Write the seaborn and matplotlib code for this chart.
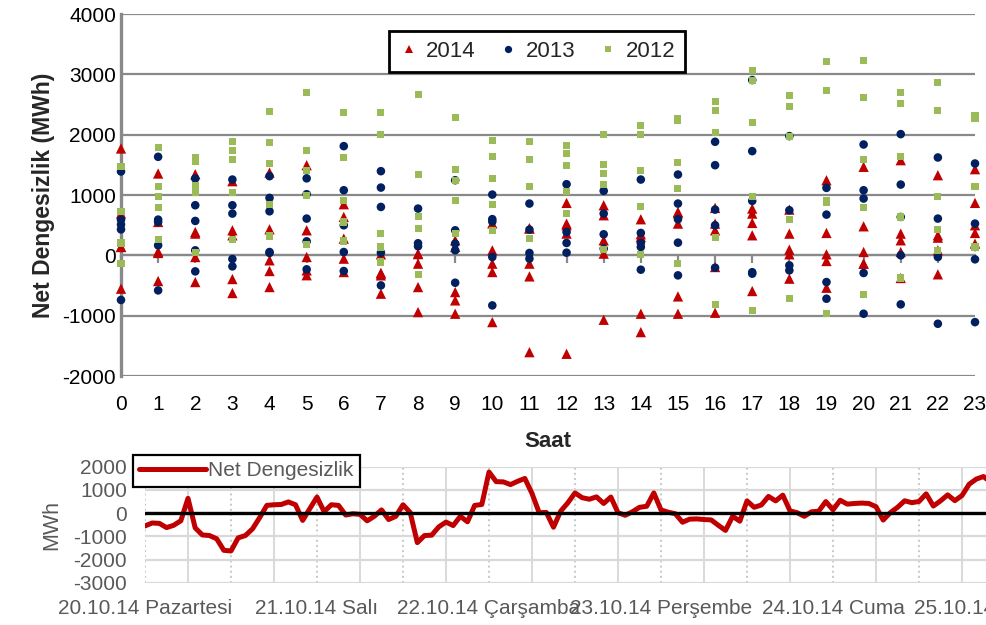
"""
Net dengesizlik (net imbalance) per hour: 2014 vs 2013 vs 2012 scatter,
plus the 2014 week as an hourly line underneath.
"""

import matplotlib
matplotlib.use("Agg")
import matplotlib.pyplot as plt
import pandas as pd
import seaborn as sns


# ─── Data ─────────────────────────────────────────────────────────────────────

HOURS = list(range(24))

DAY_LABELS = ["20.10.14 Pazartesi", "21.10.14 Salı", "22.10.14 Çarşamba",
              "23.10.14 Perşembe", "24.10.14 Cuma", "25.10.14 Cumartesi"]

# 2014 hourly net imbalance (MWh), one row per day, Mon 20.10 .. Fri 24.10
NET_2014 = [
    [-553, -426, -443, -625, -526, -330, 636, -636, -941, -968, -1107, -1605,
     -1632, -1068, -968, -681, -194, 332, 360, 371, 481, 360, -315, 194],
    [692, 60, 360, 332, -83, -28, -55, -332, -138, 138, -277, -138,
     360, 28, -1273, -968, -952, -592, -387, -537, -138, -376, 332, 371],
    [1771, 1356, 1345, 1229, 1372, 1494, 847, 17, 28, -609, 83, 443,
     869, 664, 598, 700, 415, 692, 17, -94, 55, 249, 293, 869],
    [138, 39, -28, -393, -260, -250, -277, -293, -526, -747, -138, -349,
     526, 249, 350, 719, 526, 775, 94, 17, -138, 55, 83, 498],
    [140, 553, 387, 415, 432, 415, 277, -300, 20, 249, 530, 450,
     500, 830, 304, 526, 786, 537, 758, 1245, 1467, 1577, 1328, 1428],
]

# 2013 values per hour (0..23)
NET_2013 = [
    [1390, 590, 510, 430, -740],
    [1633, 592, 553, 166, -581],
    [1273, 830, 570, 83, -266],
    [1256, 830, 692, -61, -183],
    [1312, 952, 730, 55, 40],
    [1276, 1013, 609, 232, -232],
    [1810, 1079, 498, 55, -260],
    [1395, 1123, 802, 44, -498],
    [775, 200, 150],
    [1245, 415, 194, 83, -454],
    [1007, 600, 560, -28, -830],
    [858, 426, 39, -55],
    [1179, 387, 205, 44],
    [1068, 692, 349, 111],
    [1256, 371, 205, 138, -238],
    [1339, 858, 598, 210, -332],
    [1882, 1494, 758, 498, -205],
    [2905, 1727, 902, -304, -280],
    [1976, 747, -166, -249],
    [1118, 675, -443, -719],
    [1837, 1079, 941, -293, -968],
    [2009, 1173, 636, 0, -813],
    [1622, 609, -28, -1134],
    [1522, 526, 138, -66, -1107],
]

# 2012 values per hour (0..23)
NET_2012 = [
    [1467, 719, 205, -138],
    [1782, 1134, 980, 786, 260],
    [1621, 1560, 1162, 1040, 44],
    [1893, 1732, 1588, 1040, 260],
    [2380, 1870, 1522, 847, 321],
    [2700, 1743, 1400, 985, 177],
    [2363, 1616, 913, 553, 238],
    [2369, 2009, 365, 138, -111],
    [2673, 1339, 647, 443, -315],
    [2280, 1428, 1245, 913, 360],
    [1898, 1644, 1273, 847, 404],
    [1882, 1588, 1134, 277],
    [1826, 1688, 1494, 1051, 692],
    [2009, 1511, 1356, 1173, 100],
    [2158, 2009, 1411, 802, 11],
    [2269, 2241, 1533, 1107, -138],
    [2557, 2407, 2036, 288, -813],
    [3071, 2905, 2197, 980, -913],
    [2656, 2474, 1976, 598, -719],
    [3210, 2728, 913, 869, -968],
    [3226, 2612, 1588, 786, -647],
    [2700, 2518, 1632, 636, -376],
    [2861, 2407, 980, 426, 83],
    [2324, 2269, 1146, 138],
]

YEARS   = ["2014", "2013", "2012"]
PALETTE = {"2014": "#C00000", "2013": "#002060", "2012": "#9BBB59"}
MARKERS = {"2014": "^", "2013": "o", "2012": "s"}
SIZES   = {"2014": 55, "2013": 38, "2012": 26}

GRID_DARK  = "#898989"
GRID_LIGHT = "#D9D9D9"
TEXT_GRAY  = "#595959"


# ─── Tidy frames ──────────────────────────────────────────────────────────────

rows = []
for day in NET_2014:
    for h, v in zip(HOURS, day):
        rows.append({"year": "2014", "hour": h, "value": v})
for year, table in (("2013", NET_2013), ("2012", NET_2012)):
    for h, vals in zip(HOURS, table):
        for v in vals:
            rows.append({"year": year, "hour": h, "value": v})
scatter_df = pd.DataFrame(rows)

line_df = pd.DataFrame({
    "step":  range(len(NET_2014) * 24),
    "value": [v for day in NET_2014 for v in day],
})


# ─── Figure ───────────────────────────────────────────────────────────────────

sns.set_style("white")
plt.rcParams["font.family"] = ["Liberation Sans", "DejaVu Sans"]
plt.rcParams["axes.unicode_minus"] = False

fig = plt.figure(figsize=(9.86, 6.25), dpi=100)
ax  = fig.add_axes([121/986, 1 - 376/625, 854/986, 362/625])
ax2 = fig.add_axes([145/986, 1 - 582.7/625, 860/986, 116/625])

# top: hourly scatter by year
sns.scatterplot(data=scatter_df, x="hour", y="value",
                hue="year", style="year", size="year",
                hue_order=YEARS, style_order=YEARS, size_order=YEARS,
                palette=PALETTE, markers=MARKERS, sizes=SIZES,
                linewidth=0, clip_on=False, zorder=3, ax=ax)

ax.set_xlim(0, 23)
ax.set_ylim(-2000, 4000)
ax.set_xticks(HOURS)
ax.set_yticks(range(-2000, 4001, 1000))
ax.grid(axis="y", color=GRID_DARK, lw=1.6)
ax.grid(axis="x", visible=False)
for s in ("top", "right", "bottom"):
    ax.spines[s].set_visible(False)
ax.spines["left"].set_color(GRID_DARK)
ax.spines["left"].set_linewidth(2.4)
ax.tick_params(axis="both", length=0, labelsize=15, colors="black")
ax.tick_params(axis="x", pad=14)
ax.set_xlabel("Saat", fontsize=16, fontweight="bold", labelpad=12)
ax.set_ylabel("Net Dengesizlik (MWh)", fontsize=16.5, fontweight="bold",
              labelpad=5)

# category axis crossing at 0 (ticks only)
zero_axis = ax.secondary_xaxis(2000 / 6000)
zero_axis.set_xticks(HOURS)
zero_axis.set_xticklabels([])
zero_axis.tick_params(length=6, width=1.6, color=GRID_DARK, direction="out")
zero_axis.spines["bottom"].set_color(GRID_DARK)
zero_axis.spines["bottom"].set_linewidth(1.6)

sns.move_legend(ax, "upper center", bbox_to_anchor=(0.487, 0.985),
                ncol=3, title=None, frameon=True, fancybox=False,
                fontsize=16, handlelength=0.9, handletextpad=0.35,
                columnspacing=1.0, borderpad=0.45, markerscale=0.85)
leg = ax.get_legend()
leg.get_frame().set_edgecolor("black")
leg.get_frame().set_linewidth(2.0)
leg.get_frame().set_alpha(1)

# bottom: 2014 hourly line
sns.lineplot(data=line_df, x="step", y="value", color="#C00000", lw=3.6,
             label="Net Dengesizlik", ax=ax2, zorder=2)
ax2.axhline(0, color="black", lw=2.4, zorder=3)

ax2.set_xlim(0, 120)
ax2.set_ylim(-3000, 2000)
ax2.set_yticks(range(-3000, 2001, 1000))
major = list(range(0, 121, 12))
ax2.set_xticks(major)
ax2.set_xticklabels([DAY_LABELS[m // 24] if m % 24 == 0 else "" for m in major])
ax2.set_xticks(range(6, 120, 12), minor=True)
ax2.grid(axis="x", which="major", color="#C8C8C8", ls=":", lw=1.4)
ax2.grid(axis="x", which="minor", color=GRID_LIGHT, ls="-", lw=1.4)
ax2.grid(axis="y", which="major", color=GRID_LIGHT, ls="-", lw=1.6)
for s in ax2.spines.values():
    s.set_visible(False)
ax2.tick_params(axis="both", which="both", length=0, labelsize=15,
                colors=TEXT_GRAY)
ax2.tick_params(axis="y", pad=13)
ax2.tick_params(axis="x", pad=12)
ax2.set_xlabel("")
ax2.set_ylabel("MWh", fontsize=15.5, color=TEXT_GRAY, labelpad=8)

leg2 = ax2.legend(loc="upper left", bbox_to_anchor=(-0.014, 1.10),
                  borderaxespad=0, frameon=True, fancybox=False,
                  fontsize=15, handlelength=3.2, handletextpad=0.1,
                  borderpad=0.3)
leg2.get_frame().set_edgecolor("black")
leg2.get_frame().set_linewidth(1.6)
leg2.get_frame().set_alpha(1)
for t in leg2.get_texts():
    t.set_color(TEXT_GRAY)

fig.savefig("out.png", dpi=100)
